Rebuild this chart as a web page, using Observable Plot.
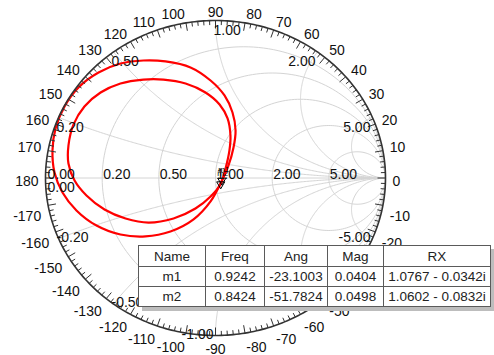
<!DOCTYPE html>
<html><head><meta charset="utf-8">
<script src="https://cdn.jsdelivr.net/npm/d3@7"></script>
<script src="https://cdn.jsdelivr.net/npm/@observablehq/plot@0.6"></script>
<style>
body{margin:0;background:#fff;}
#wrap{position:relative;width:494px;height:355px;overflow:hidden;font-family:"Liberation Sans",Arial,sans-serif;}
#wrap svg{position:absolute;left:0;top:0;}
#tbl{position:absolute;left:138px;top:245px;width:352px;table-layout:fixed;border-collapse:collapse;background:#fff;box-shadow:4px 4px 0 #bdbdbd;font-size:13.5px;color:#222;font-family:"Liberation Sans",Arial,sans-serif;}
#tbl td,#tbl th{border:1.5px solid #5a5a5a;text-align:center;padding:0;font-weight:normal;white-space:nowrap;overflow:hidden;}
#tbl tr{height:20px;}
#tbl tr.h{height:21px;}
</style></head>
<body><div id="wrap"></div>
<script>
// ---- data ----
const resistanceGrid = [0.2, 0.5, 1, 2, 5];
const reactanceGrid = [0.2, 0.5, 1, 2, 5];
const gridLabels = ["0.20", "0.50", "1.00", "2.00", "5.00"];
const angleLabels = d3.range(-170, 181, 10);

// trace 1 (outer loop), reflection coefficient re / im
const trace1Re = [0.035, 0.076, 0.106, 0.118, 0.100, 0.053, -0.029, -0.147, -0.294, -0.424, -0.559, -0.688, -0.806, -0.888, -0.941, -0.959, -0.947, -0.900, -0.818, -0.700, -0.559, -0.412, -0.265, -0.129, -0.029];
const trace1Im = [-0.022, 0.079, 0.194, 0.302, 0.416, 0.524, 0.619, 0.702, 0.740, 0.746, 0.727, 0.670, 0.575, 0.454, 0.314, 0.175, 0.035, -0.092, -0.206, -0.302, -0.359, -0.371, -0.340, -0.263, -0.149];
// trace 2 (inner loop)
const trace2Re = [0.029, 0.059, 0.082, 0.088, 0.071, 0.024, -0.059, -0.176, -0.306, -0.424, -0.559, -0.676, -0.771, -0.835, -0.865, -0.865, -0.829, -0.759, -0.653, -0.529, -0.394, -0.247, -0.118, -0.029];
const trace2Im = [-0.041, 0.060, 0.175, 0.270, 0.378, 0.467, 0.543, 0.600, 0.625, 0.625, 0.600, 0.543, 0.454, 0.340, 0.206, 0.092, -0.016, -0.111, -0.200, -0.257, -0.283, -0.257, -0.194, -0.117];

// markers
const markerNames = ["m1", "m2"];
const markerFreq = ["0.9242", "0.8424"];
const markerAng = [-23.1003, -51.7824];
const markerMag = [0.0404, 0.0498];
const markerRX = ["1.0767 - 0.0342i", "1.0602 - 0.0832i"];

// ---- layout ----
const W = 494, H = 355;
const RX = 170, RY = 157.5; // pixel radii of the chart
const font = "Liberation Sans, Arial, sans-serif";

// grid geometry
const rCircles = [];
resistanceGrid.forEach(r => {
  const c = r / (1 + r), a = 1 / (1 + r);
  for (let i = 0; i <= 180; i++) {
    const t = i / 180 * 2 * Math.PI;
    rCircles.push({k: "r" + r, x: c + a * Math.cos(t), y: a * Math.sin(t)});
  }
});
const xArcs = [];
reactanceGrid.forEach(xv => {
  [xv, -xv].forEach(x => {
    for (let i = 0; i <= 240; i++) {
      const u = i / 240 * (Math.PI / 2 - 1e-4);
      const r = Math.tan(u);
      const den = (r + 1) * (r + 1) + x * x;
      xArcs.push({k: "x" + x, x: (r * r - 1 + x * x) / den, y: 2 * x / den});
    }
  });
});
const rim = d3.range(0, 361).map(d => ({x: Math.cos(d * Math.PI / 180), y: Math.sin(d * Math.PI / 180)}));
const ticks = d3.range(-180, 180, 2).map(d => {
  const a = d * Math.PI / 180, L = d % 10 === 0 ? 8 : 4.5;
  return {x1: Math.cos(a), y1: Math.sin(a), x2: (1 - L / RX) * Math.cos(a), y2: (1 - L / RY) * Math.sin(a)};
});

// angle labels
const angRows = angleLabels.map(d => {
  const a = d * Math.PI / 180, c = Math.cos(a), s = Math.sin(a);
  let y;
  if (d === 0 || d === 180) y = -3.5 / RY;
  else if (d > 0) y = ((RY + 6) * s + 2) / RY;
  else y = ((RY + 3.5) * s - 10.5) / RY;
  return {t: String(d), x: (RX + 7) / RX * c, y, anchor: c > 0.01 ? "start" : c < -0.01 ? "end" : "middle"};
});

// grid labels
const gLabels = [];
gLabels.push({t: "0.00", x: -1 + 2 / RX, y: 3.5 / RY, anchor: "start"});
gLabels.push({t: "0.00", x: -1 + 2 / RX, y: -9.5 / RY, anchor: "start"});
resistanceGrid.forEach((r, i) => {
  gLabels.push({t: gridLabels[i], x: (r - 1) / (r + 1) + 1 / RX, y: 3.5 / RY, anchor: "start"});
});
reactanceGrid.forEach((x, i) => {
  const den = 1 + x * x, gx = (x * x - 1) / den, gy = 2 * x / den;
  gLabels.push({t: gridLabels[i], x: gx - 2 / RX, y: gy - 10 / RY, anchor: x <= 1 ? "start" : "end"});
  gLabels.push({t: "-" + gridLabels[i], x: gx - 2 / RX, y: -gy + 1 / RY, anchor: x < 1 ? "start" : "end"});
});

const traceRows = [];
trace1Re.forEach((v, i) => traceRows.push({k: "t1", x: v, y: trace1Im[i]}));
trace2Re.forEach((v, i) => traceRows.push({k: "t2", x: v, y: trace2Im[i]}));

const markers = markerNames.map((n, i) => ({
  n, x: markerMag[i] * Math.cos(markerAng[i] * Math.PI / 180), y: markerMag[i] * Math.sin(markerAng[i] * Math.PI / 180)
}));

const textOpts = {fontSize: 14, fontFamily: font, fill: "#111"};

const chart = Plot.plot({
  width: W, height: H,
  marginLeft: 45, marginRight: W - 45 - 2 * RX, marginTop: 20, marginBottom: H - 20 - 2 * RY,
  x: {domain: [-1, 1], axis: null},
  y: {domain: [-1, 1], axis: null},
  style: {background: "transparent", overflow: "visible"},
  marks: [
    Plot.line(rCircles, {x: "x", y: "y", z: "k", stroke: "#d4d4d4", strokeWidth: 1}),
    Plot.line(xArcs, {x: "x", y: "y", z: "k", stroke: "#d4d4d4", strokeWidth: 1}),
    Plot.line([{x: -1, y: 0}, {x: 1, y: 0}], {x: "x", y: "y", stroke: "#d4d4d4", strokeWidth: 1}),
    Plot.line(traceRows, {x: "x", y: "y", z: "k", stroke: "#ff0000", strokeWidth: 2.2, curve: "catmull-rom-closed"}),
    Plot.line(rim, {x: "x", y: "y", stroke: "#333", strokeWidth: 1.6}),
    Plot.link(ticks, {x1: "x1", y1: "y1", x2: "x2", y2: "y2", stroke: "#333", strokeWidth: 1}),
    Plot.dot(markers, {x: "x", y: "y", symbol: "triangle", r: 3, rotate: 180, stroke: "#000", strokeWidth: 1, fill: "none"}),
    Plot.text(markers, {x: "x", y: "y", text: "n", fontSize: 8, fontFamily: font, fill: "#000", dy: -11, dx: 2}),
    ...["start", "end", "middle"].map(an => Plot.text(gLabels.filter(d => d.anchor === an), {x: "x", y: "y", text: "t", textAnchor: an, ...textOpts})),
    ...["start", "end", "middle"].map(an => Plot.text(angRows.filter(d => d.anchor === an), {x: "x", y: "y", text: "t", textAnchor: an, ...textOpts}))
  ]
});
const wrap = document.getElementById("wrap");
wrap.appendChild(chart);

// marker table
const tbl = document.createElement("table");
tbl.id = "tbl";
const colW = [67, 59, 63, 56, 107];
let html = "<colgroup>" + colW.map(w => `<col style="width:${w}px">`).join("") + "</colgroup>";
html += '<tr class="h"><th>Name</th><th>Freq</th><th>Ang</th><th>Mag</th><th>RX</th></tr>';
markerNames.forEach((n, i) => {
  html += `<tr><td>${n}</td><td>${markerFreq[i]}</td><td>${markerAng[i].toFixed(4)}</td><td>${markerMag[i].toFixed(4)}</td><td>${markerRX[i]}</td></tr>`;
});
tbl.innerHTML = html;
wrap.appendChild(tbl);
</script>
</body></html>
